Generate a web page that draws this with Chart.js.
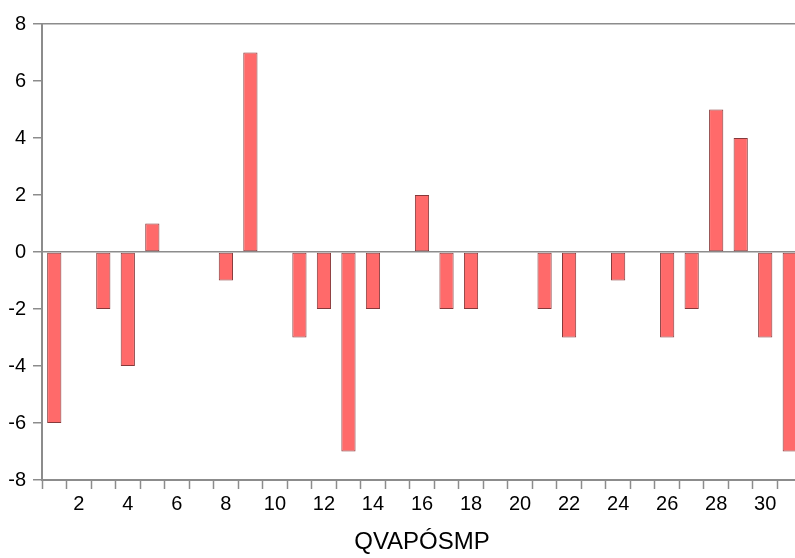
<!DOCTYPE html>
<html>
<head>
<meta charset="utf-8">
<script src="https://cdn.jsdelivr.net/npm/chart.js@4/dist/chart.umd.min.js"></script>
<style>
    html, body { margin: 0; padding: 0; background: #fff; overflow: hidden; }
    #wrap { width: 812px; height: 558px; }
</style>
</head>
<body>
<div id="wrap"><canvas id="chart" width="812" height="558"></canvas></div>
<script>
const periods = [];
for (let i = 1; i <= 31; i++) periods.push(i);

const values = [
    -6, 0, -2, -4, 1, 0, 0, -1, 7, 0,
    -3, -2, -7, -2, 0, 2, -2, -2, 0, 0,
    -2, -3, 0, -1, 0, -3, -2, 5, 4, -3,
    -7
];

const yTicks = [-8, -6, -4, -2, 0, 2, 4, 6, 8];
const seriesName = "QVAPÓSMP";

const axisGray = "#8c8c8c";
const font = "'Liberation Sans', Arial, sans-serif";

new Chart(document.getElementById("chart"), {
    type: "bar",
    data: {
        labels: periods,
        datasets: [
            {
                label: seriesName,
                data: values,
                backgroundColor: "#ff6a6a",
                borderColor: "#86393a",
                borderWidth: 1,
                borderSkipped: false,
                barPercentage: 0.58,
                categoryPercentage: 1
            }
        ]
    },
    options: {
        responsive: false,
        animation: false,
        layout: {
            padding: { top: 24, right: 10, left: 0, bottom: 0 }
        },
        plugins: {
            legend: { display: false },
            tooltip: { enabled: false }
        },
        scales: {
            x: {
                offset: true,
                border: { display: true, color: axisGray, width: 2 },
                grid: {
                    offset: true,
                    drawOnChartArea: false,
                    tickLength: 9,
                    tickColor: axisGray,
                    tickWidth: 1.5
                },
                ticks: {
                    autoSkip: false,
                    maxRotation: 0,
                    padding: 3,
                    color: "#000",
                    font: { family: font, size: 20 },
                    callback: function (value, index) {
                        const p = periods[index];
                        return p % 2 === 0 ? String(p) : "";
                    }
                },
                title: {
                    display: true,
                    text: seriesName,
                    color: "#000",
                    font: { family: font, size: 24 },
                    padding: { top: 0, bottom: 1 }
                },
                afterFit: function (scale) {
                    scale.height = 78;
                }
            },
            y: {
                min: -8,
                max: 8,
                border: { display: true, color: axisGray, width: 2 },
                grid: {
                    drawOnChartArea: true,
                    tickLength: 9,
                    tickWidth: 1.5,
                    tickColor: axisGray,
                    lineWidth: 1.5,
                    color: function (ctx) {
                        const v = ctx.tick ? ctx.tick.value : null;
                        if (v === 0 || v === 8) return axisGray;
                        return "rgba(0,0,0,0)";
                    }
                },
                afterBuildTicks: function (scale) {
                    scale.ticks = yTicks.map(v => ({ value: v }));
                },
                ticks: {
                    padding: 7,
                    color: "#000",
                    font: { family: font, size: 20 }
                },
                afterFit: function (scale) {
                    scale.width = 42;
                }
            }
        }
    }
});
</script>
</body>
</html>
